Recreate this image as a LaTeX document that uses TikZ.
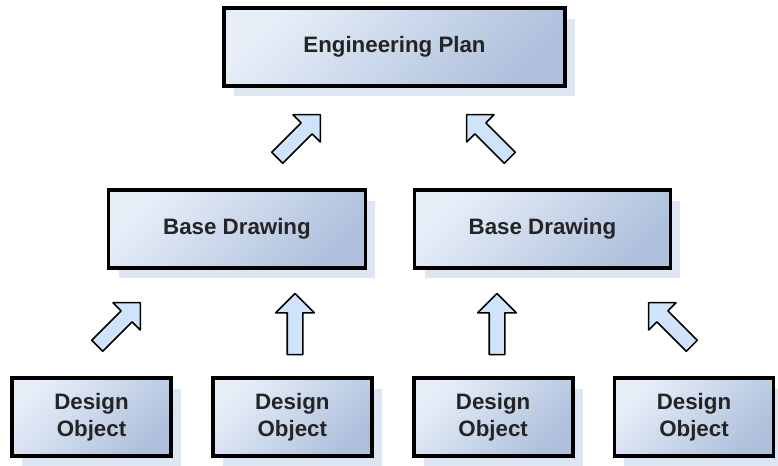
\documentclass[tikz,border=0pt]{standalone}
\usepackage{fontspec}
\setmainfont{Liberation Sans}
\usetikzlibrary{positioning, shapes.arrows, shadows}
\definecolor{boxlight}{RGB}{231, 238, 248}
\definecolor{boxdark}{RGB}{174, 192, 220}
\definecolor{shadowblue}{RGB}{221, 230, 243}
\definecolor{arrowfill}{RGB}{207, 228, 251}
\definecolor{textgray}{RGB}{36, 36, 36}

\begin{document}
\begin{tikzpicture}[
  x=0.02cm, y=-0.02cm,
  node distance=0.76cm,
  % --- Styles ---
  planbox/.style={
    rectangle, draw=black, line width=2.2pt,
    top color=boxlight, bottom color=boxdark, shading angle=45,
    drop shadow={shadow xshift=0.2cm, shadow yshift=-0.21cm,
                 fill=shadowblue, opacity=1},
    minimum height=1.56cm, align=center, inner sep=2pt,
    font=\fontsize{12.7}{15.6}\selectfont\bfseries, text=textgray},
  blockarr/.style={
    single arrow, draw=black, fill=arrowfill, line width=0.9pt,
    line join=round, minimum height=1.22cm, minimum width=0.74cm,
    single arrow head extend=0.23cm, single arrow head indent=0pt,
    inner xsep=0pt, inner ysep=0.14cm},
]
\useasboundingbox (0,0) rectangle (778,466);
% === NODES ===
% 1. Plan
\node[planbox, minimum width=6.82cm] (ep) at (394.5,47) {Engineering Plan};
% 2. Drawings
\node[planbox, minimum width=5.14cm] (bd1) at (237,229) {Base Drawing};
\node[planbox, minimum width=5.12cm] (bd2) at (542.5,229) {Base Drawing};
% 3. Objects
\node[planbox, minimum width=3.18cm] (do1) at (91.5,417) {Design\\Object};
\node[planbox, minimum width=3.18cm, right=of do1] (do2) {Design\\Object};
\node[planbox, minimum width=3.18cm, right=of do2] (do3) {Design\\Object};
\node[planbox, minimum width=3.18cm, right=of do3] (do4) {Design\\Object};

% === ARROWS ===
% Drawings up to plan
\node[blockarr, rotate=45] (a1) at (296,139) {};
\node[blockarr, rotate=135] (a2) at (491,139) {};
% Objects up to drawings
\node[blockarr, rotate=45] (a3) at (116,327) {};
\node[blockarr, rotate=90] (a4) at (295,328) {};
\node[blockarr, rotate=90] (a5) at (497,328) {};
\node[blockarr, rotate=135] (a6) at (673,327) {};
\end{tikzpicture}
\end{document}
